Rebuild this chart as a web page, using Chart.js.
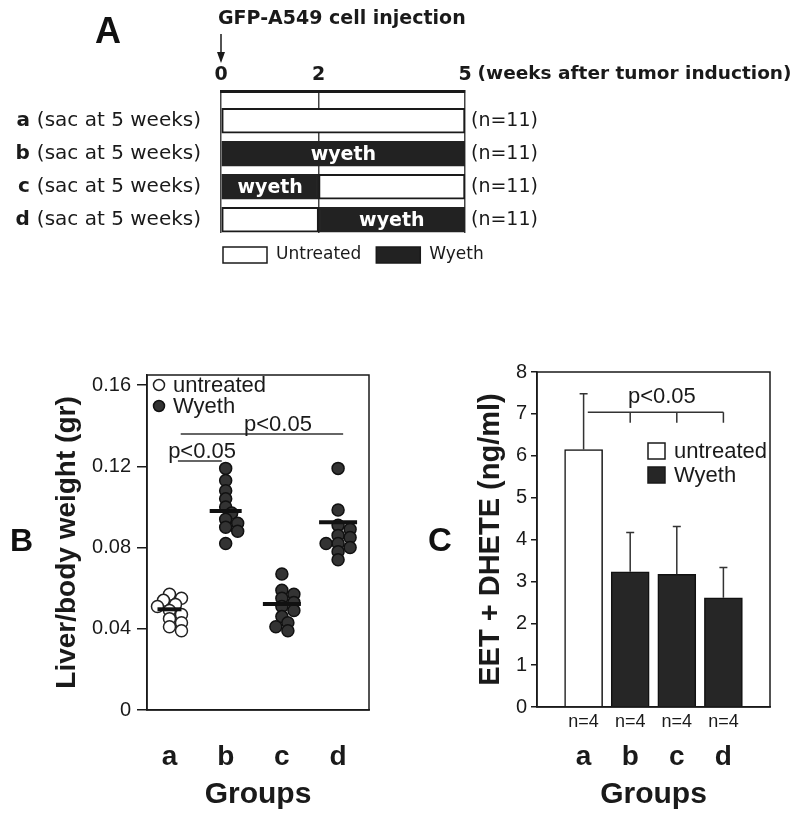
<!DOCTYPE html>
<html>
<head>
<meta charset="utf-8">
<script src="https://cdn.jsdelivr.net/npm/chart.js@4.4.1/dist/chart.umd.min.js"></script>
<style>
  body { margin: 0; background: #fff; }
  #page { position: relative; width: 800px; height: 818px; overflow: hidden; background: #fff; }
  canvas { position: absolute; }
  .panel { position: absolute; font-family: "Liberation Sans", Arial, sans-serif; font-weight: bold; line-height: 1; color: #111; }
</style>
</head>
<body>
<div id="page">
  <canvas id="timeline" width="800" height="275" style="left:0;top:0"></canvas>
  <canvas id="liverChart" width="400" height="478" style="left:0;top:340px"></canvas>
  <canvas id="eetChart" width="400" height="478" style="left:400px;top:340px"></canvas>
  <div class="panel" style="left:95px;top:13px;font-size:36px">A</div>
  <div class="panel" style="left:10px;top:524px;font-size:32px">B</div>
  <div class="panel" style="left:428px;top:523px;font-size:33px">C</div>
</div>
<script>
const groups = ['a', 'b', 'c', 'd'];

// A - treatment schedule, weeks after tumor induction
const weekTicks = [0, 2, 5];
const sacWeeks = [5, 5, 5, 5];
const miceN = [11, 11, 11, 11];
const wyethStart = [null, 0, 0, 2];
const wyethEnd = [null, 5, 2, 5];

// B - liver/body weight per mouse (gr)
const liverA = [0.057, 0.055, 0.054, 0.052, 0.051, 0.049, 0.047, 0.045, 0.043, 0.041, 0.039];
const liverB = [0.119, 0.113, 0.108, 0.104, 0.100, 0.097, 0.094, 0.092, 0.090, 0.088, 0.082];
const liverC = [0.067, 0.059, 0.057, 0.055, 0.053, 0.051, 0.049, 0.046, 0.043, 0.041, 0.039];
const liverD = [0.119, 0.0985, 0.091, 0.089, 0.086, 0.085, 0.082, 0.082, 0.080, 0.078, 0.074];
const liverMeans = [0.0496, 0.098, 0.0522, 0.0925];
const liverTicks = [0, 0.04, 0.08, 0.12, 0.16];

// C - EET + DHETE (ng/ml)
const eetMeans = [6.15, 3.23, 3.17, 2.61];
const eetSD = [1.33, 0.94, 1.14, 0.72];
const eetN = [4, 4, 4, 4];

const SANS = '"Liberation Sans", Arial, sans-serif';
const DEJA = '"DejaVu Sans", sans-serif';
const INK = '#1a1a1a';
const DARK = '#262626';

Chart.defaults.font.family = SANS;
Chart.defaults.color = INK;

const treated = groups.map((g, i) => wyethStart[i] !== null);
const onlyTicks = list => s => { s.ticks = list.map(v => ({ value: v })); };
const groupIdx = groups.map((g, i) => i);

// ---------- A: timeline ----------
const untreatedBars = [], wyethBars = [];
groups.forEach((g, i) => {
  const s = wyethStart[i], e = wyethEnd[i], end = sacWeeks[i];
  if (s === null) { untreatedBars.push({ x: [0, end], y: i }); return; }
  wyethBars.push({ x: [s, e], y: i });
  if (s > 0) untreatedBars.push({ x: [0, s], y: i });
  if (e < end) untreatedBars.push({ x: [e, end], y: i });
});

const timelineExtras = {
  id: 'timelineExtras',
  afterDraw(chart) {
    const { ctx, chartArea: a, scales } = chart;
    const xs = scales.x, ys = scales.y;
    ctx.save();
    // bold group letters before the row labels
    ctx.textBaseline = 'middle';
    ctx.textAlign = 'right';
    groups.forEach((g, i) => {
      const y = ys.getPixelForValue(i);
      ctx.font = `20px ${DEJA}`;
      const w = ctx.measureText(`(sac at ${sacWeeks[i]} weeks)`).width;
      ctx.font = `bold 20px ${DEJA}`;
      ctx.fillStyle = INK;
      ctx.fillText(g + ' ', a.left - 20 - w, y);
    });
    // wyeth labels inside black segments
    ctx.textAlign = 'center';
    ctx.font = `bold 19px ${DEJA}`;
    ctx.fillStyle = '#fff';
    chart.getDatasetMeta(1).data.forEach(bar => {
      ctx.fillText('wyeth', (bar.x + bar.base) / 2, bar.y + 1);
    });
    // injection note above the 0 tick
    ctx.fillStyle = INK;
    ctx.textAlign = 'left';
    const x0 = xs.getPixelForValue(0);
    ctx.fillText('GFP-A549 cell injection', x0 - 3, 19);
    ctx.strokeStyle = INK;
    ctx.lineWidth = 1.5;
    ctx.beginPath(); ctx.moveTo(x0, 34); ctx.lineTo(x0, 54); ctx.stroke();
    ctx.beginPath(); ctx.moveTo(x0 - 4, 52); ctx.lineTo(x0 + 4, 52); ctx.lineTo(x0, 63); ctx.closePath();
    ctx.fill();
    // axis unit after the "5" tick
    const x5 = xs.getPixelForValue(5);
    const half5 = ctx.measureText('5').width / 2;
    ctx.font = `bold 18.5px ${DEJA}`;
    ctx.fillText('(weeks after tumor induction)', x5 + half5 + 6, a.top - 5 - 11.4);
    // legend
    let lx = a.left + 2;
    const ly = a.bottom + 14;
    ctx.font = `17px ${DEJA}`;
    chart.data.datasets.forEach(ds => {
      ctx.fillStyle = ds.backgroundColor;
      ctx.fillRect(lx, ly, 44, 16);
      ctx.lineWidth = 1.5; ctx.strokeStyle = INK;
      ctx.strokeRect(lx, ly, 44, 16);
      ctx.fillStyle = INK;
      ctx.fillText(ds.label, lx + 53, ly + 8);
      lx += 53 + ctx.measureText(ds.label).width + 15;
    });
    ctx.restore();
  }
};

const rowAxis = {
  type: 'linear', reverse: true, min: -0.9, max: 3.4, offset: false,
  afterBuildTicks: onlyTicks(groupIdx),
  grid: { display: false, drawTicks: false },
  border: { display: false }
};

new Chart(document.getElementById('timeline'), {
  type: 'bar',
  data: {
    datasets: [
      { label: 'Untreated', data: untreatedBars, backgroundColor: '#fff', borderColor: INK,
        borderWidth: 2, borderSkipped: false, grouped: false, barThickness: 25 },
      { label: 'Wyeth', data: wyethBars, backgroundColor: '#222', borderColor: '#222',
        borderWidth: 2, borderSkipped: false, grouped: false, barThickness: 25 }
    ]
  },
  options: {
    indexAxis: 'y',
    responsive: false,
    animation: false,
    layout: { padding: { top: 0, right: 0, bottom: 42, left: 0 } },
    plugins: { legend: { display: false }, tooltip: { enabled: false } },
    scales: {
      x: {
        type: 'linear', position: 'top', min: 0, max: 5,
        afterBuildTicks: onlyTicks(weekTicks),
        afterFit: s => { s.height = 91; },
        ticks: { font: { family: DEJA, size: 19, weight: 'bold' }, padding: 5, color: INK },
        grid: { color: '#444', lineWidth: 1.5, drawTicks: false },
        border: { display: true, color: INK, width: 3 }
      },
      y: {
        ...rowAxis,
        afterFit: s => { s.width = 221; },
        ticks: { callback: v => `(sac at ${sacWeeks[v]} weeks)`, font: { family: DEJA, size: 20 }, padding: 20, color: INK }
      },
      yn: {
        ...rowAxis,
        position: 'right',
        afterFit: s => { s.width = 335; },
        ticks: { callback: v => `(n=${miceN[v]})`, font: { family: DEJA, size: 19 }, padding: 6, color: INK }
      }
    }
  },
  plugins: [timelineExtras]
});

// ---------- B: liver/body weight ----------
const frame = {
  id: 'frame',
  afterDraw(chart) {
    const { ctx, chartArea: a } = chart;
    ctx.save();
    ctx.strokeStyle = INK;
    ctx.lineWidth = 1.5;
    ctx.strokeRect(a.left, a.top, a.right - a.left, a.bottom - a.top);
    ctx.restore();
  }
};

// simple beeswarm so dots of a group do not pile up on one another
function swarm(values, gi) {
  const pxX = 222 / 3.95, pxY = 335 / 0.165;
  const placed = [];
  return [...values].sort((p, q) => q - p).map(v => {
    const py = v * pxY;
    let dx = 0;
    for (const k of [0, 1, -1, 2, -2, 3, -3]) {
      const px = k * 6;
      if (placed.every(p => Math.hypot(p.px - px, p.py - py) >= 7.5)) { dx = px; break; }
    }
    placed.push({ px: dx, py });
    return { x: gi + dx / pxX, y: v };
  });
}

const liverGroups = [liverA, liverB, liverC, liverD];
const untreatedPts = liverGroups.flatMap((v, i) => treated[i] ? [] : swarm(v, i));
const wyethPts = liverGroups.flatMap((v, i) => treated[i] ? swarm(v, i) : []);

const liverBrackets = [
  { from: 0.15, to: 0.93, level: 0.1227, labelX: 0.58 },
  { from: 0.2, to: 3.09, level: 0.136, labelX: 1.93 }
];

const liverExtras = {
  id: 'liverExtras',
  afterDraw(chart) {
    const { ctx, chartArea: a, scales } = chart;
    const xs = scales.x, ys = scales.y;
    ctx.save();
    ctx.strokeStyle = '#333';
    ctx.lineWidth = 1.5;
    ctx.fillStyle = INK;
    ctx.font = `22px ${SANS}`;
    ctx.textAlign = 'center';
    ctx.textBaseline = 'alphabetic';
    liverBrackets.forEach(b => {
      const y = ys.getPixelForValue(b.level);
      ctx.beginPath();
      ctx.moveTo(xs.getPixelForValue(b.from), y);
      ctx.lineTo(xs.getPixelForValue(b.to), y);
      ctx.stroke();
      ctx.fillText('p<0.05', xs.getPixelForValue(b.labelX), y - 3);
    });
    // legend
    ctx.textAlign = 'left';
    ctx.textBaseline = 'middle';
    [1, 2].forEach((di, row) => {
      const ds = chart.data.datasets[di];
      const cy = a.top + 10 + row * 21;
      ctx.beginPath();
      ctx.arc(a.left + 12, cy, 5.5, 0, Math.PI * 2);
      ctx.fillStyle = ds.pointBackgroundColor;
      ctx.fill();
      ctx.strokeStyle = ds.pointBorderColor;
      ctx.stroke();
      ctx.fillStyle = INK;
      ctx.fillText(ds.label, a.left + 26, cy + 1);
    });
    ctx.restore();
  }
};

new Chart(document.getElementById('liverChart'), {
  type: 'scatter',
  data: {
    datasets: [
      { label: 'mean', data: liverMeans.map((m, i) => ({ x: i, y: m })), pointStyle: 'line',
        pointRadius: [12, 16, 19, 19], borderColor: '#111', pointBorderColor: '#111', pointBorderWidth: 4 },
      { label: 'untreated', data: untreatedPts, pointRadius: 6, pointBackgroundColor: '#fff',
        pointBorderColor: '#222', pointBorderWidth: 1.5 },
      { label: 'Wyeth', data: wyethPts, pointRadius: 6, pointBackgroundColor: '#333',
        pointBorderColor: '#111', pointBorderWidth: 1.5 }
    ]
  },
  options: {
    responsive: false,
    animation: false,
    layout: { padding: { top: 35, right: 31, bottom: 0, left: 0 } },
    plugins: { legend: { display: false }, tooltip: { enabled: false } },
    scales: {
      x: {
        type: 'linear', min: -0.4, max: 3.55,
        afterBuildTicks: onlyTicks(groupIdx),
        afterFit: s => { s.height = 108; },
        ticks: { callback: v => groups[v], font: { size: 28, weight: 'bold' }, padding: 30, color: INK },
        grid: { display: false, drawTicks: false },
        border: { display: true, color: INK, width: 1.5 },
        title: { display: true, text: 'Groups', font: { size: 30, weight: 'bold' }, color: INK, padding: { top: 0, bottom: 5 } }
      },
      y: {
        min: 0, max: 0.165,
        afterBuildTicks: onlyTicks(liverTicks),
        afterFit: s => { s.width = 147; },
        ticks: { callback: v => v === 0 ? '0' : v.toFixed(2), font: { size: 20 }, padding: 6, color: INK },
        grid: { drawOnChartArea: false, tickLength: 10, color: INK, lineWidth: 1.5 },
        border: { display: true, color: INK, width: 1.5 },
        title: { display: true, text: 'Liver/body weight (gr)', font: { size: 28, weight: 'bold' }, color: INK, padding: { top: 50, bottom: 0 } }
      }
    }
  },
  plugins: [frame, liverExtras]
});

// ---------- C: EET + DHETE ----------
const eetBracket = { from: 0.09, to: 3, level: 7.04, drop: 6.79, dropsAt: [1, 2, 3], labelX: 1.68, labelY: 7.25 };

const eetExtras = {
  id: 'eetExtras',
  afterDatasetsDraw(chart) {
    const { ctx, chartArea: a, scales } = chart;
    const xs = scales.x, ys = scales.y;
    ctx.save();
    ctx.strokeStyle = '#333';
    ctx.lineWidth = 1.5;
    // upper error whiskers
    chart.getDatasetMeta(0).data.forEach((bar, i) => {
      const yTop = ys.getPixelForValue(eetMeans[i] + eetSD[i]);
      ctx.beginPath();
      ctx.moveTo(bar.x, bar.y);
      ctx.lineTo(bar.x, yTop);
      ctx.moveTo(bar.x - 4, yTop);
      ctx.lineTo(bar.x + 4, yTop);
      ctx.stroke();
    });
    // significance bracket
    const by = ys.getPixelForValue(eetBracket.level);
    const dy = ys.getPixelForValue(eetBracket.drop);
    ctx.beginPath();
    ctx.moveTo(xs.getPixelForValue(eetBracket.from), by);
    ctx.lineTo(xs.getPixelForValue(eetBracket.to), by);
    eetBracket.dropsAt.forEach(v => {
      const x = xs.getPixelForValue(v);
      ctx.moveTo(x, by);
      ctx.lineTo(x, dy);
    });
    ctx.stroke();
    ctx.fillStyle = INK;
    ctx.font = `22px ${SANS}`;
    ctx.textAlign = 'center';
    ctx.textBaseline = 'alphabetic';
    ctx.fillText('p<0.05', xs.getPixelForValue(eetBracket.labelX), ys.getPixelForValue(eetBracket.labelY));
    // legend
    ctx.textAlign = 'left';
    ctx.textBaseline = 'middle';
    [['untreated', '#fff'], ['Wyeth', DARK]].forEach(([label, fill], row) => {
      const top = a.top + 71 + row * 24;
      ctx.fillStyle = fill;
      ctx.fillRect(a.left + 111, top, 17, 16);
      ctx.strokeStyle = INK;
      ctx.strokeRect(a.left + 111, top, 17, 16);
      ctx.fillStyle = INK;
      ctx.fillText(label, a.left + 137, top + 9);
    });
    ctx.restore();
  }
};

new Chart(document.getElementById('eetChart'), {
  type: 'bar',
  data: {
    datasets: [{
      label: 'EET + DHETE',
      data: eetMeans.map((m, i) => ({ x: i, y: m })),
      backgroundColor: treated.map(t => t ? DARK : '#fff'),
      borderColor: '#111',
      borderWidth: 1.5,
      barThickness: 38
    }]
  },
  options: {
    responsive: false,
    animation: false,
    layout: { padding: { top: 32, right: 30, bottom: 0, left: 0 } },
    plugins: { legend: { display: false }, tooltip: { enabled: false } },
    scales: {
      x: {
        type: 'linear', min: -1, max: 4, offset: false, weight: 0,
        afterBuildTicks: onlyTicks(groupIdx),
        afterFit: s => { s.height = 30; },
        ticks: { callback: v => `n=${eetN[v]}`, font: { size: 18 }, padding: 4, color: INK },
        grid: { display: false, drawTicks: false },
        border: { display: true, color: INK, width: 1.5 }
      },
      x2: {
        type: 'linear', position: 'bottom', min: -1, max: 4, offset: false, weight: 1,
        afterBuildTicks: onlyTicks(groupIdx),
        afterFit: s => { s.height = 81; },
        ticks: { callback: v => groups[v], font: { size: 28, weight: 'bold' }, padding: 3, color: INK },
        grid: { display: false, drawTicks: false },
        border: { display: false },
        title: { display: true, text: 'Groups', font: { size: 30, weight: 'bold' }, color: INK, padding: { top: 0, bottom: 5 } }
      },
      y: {
        min: 0, max: 8,
        ticks: { stepSize: 1, font: { size: 20 }, padding: 4, color: INK },
        afterFit: s => { s.width = 137; },
        grid: { drawOnChartArea: false, tickLength: 6, color: INK, lineWidth: 1.5 },
        border: { display: true, color: INK, width: 1.5 },
        title: { display: true, text: 'EET + DHETE (ng/ml)', font: { size: 29, weight: 'bold' }, color: INK, padding: { top: 74, bottom: 0 } }
      }
    }
  },
  plugins: [frame, eetExtras]
});
</script>
</body>
</html>
